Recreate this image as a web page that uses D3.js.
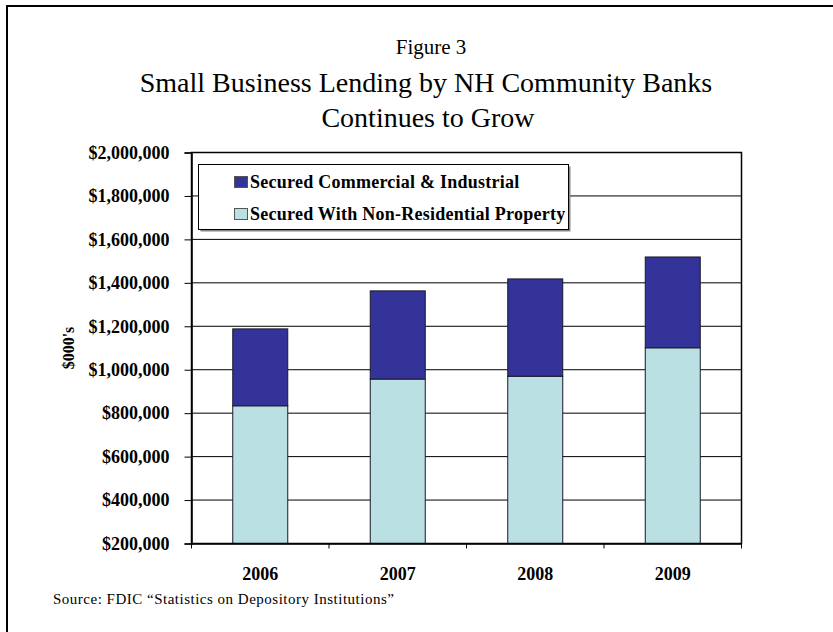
<!DOCTYPE html>
<html>
<head>
<meta charset="utf-8">
<script src="https://cdn.jsdelivr.net/npm/d3@7"></script>
<style>
  html, body { margin: 0; padding: 0; background: #fff; }
  svg { display: block; }
  text { font-family: "Liberation Serif", "Times New Roman", serif; fill: #000; }
</style>
</head>
<body>
<svg id="chart" width="833" height="632"></svg>
<script>
// Data (thousands of dollars)
const years = ["2006", "2007", "2008", "2009"];
const nonResidential = [834000, 957000, 970000, 1101000];   // Secured With Non-Residential Property
const commercialIndustrial = [354000, 406000, 448000, 418000]; // Secured Commercial & Industrial
const yTicks = [200000, 400000, 600000, 800000, 1000000, 1200000, 1400000, 1600000, 1800000, 2000000];
const seriesNames = ["Secured Commercial & Industrial", "Secured With Non-Residential Property"];
const seriesColors = ["#333399", "#BBE0E3"];

const svg = d3.select("#chart");

// Outer frame
svg.append("rect")
  .attr("x", 7).attr("y", 6).attr("width", 840).attr("height", 640)
  .attr("fill", "none").attr("stroke", "#000").attr("stroke-width", 2);

// Titles
svg.append("text").attr("x", 431).attr("y", 54).attr("text-anchor", "middle")
  .style("font-size", "21px").text("Figure 3");
svg.append("text").attr("x", 426).attr("y", 92).attr("text-anchor", "middle")
  .style("font-size", "28px").text("Small Business Lending by NH Community Banks");
svg.append("text").attr("x", 428).attr("y", 127).attr("text-anchor", "middle")
  .style("font-size", "28px").text("Continues to Grow");

// Plot area
const plotLeft = 191.5, plotRight = 741.5, plotTop = 152.5, plotBottom = 543.5;

const x = d3.scaleBand().domain(years).range([plotLeft, plotRight])
  .paddingInner(0.6).paddingOuter(0.3);
const y = d3.scaleLinear().domain([200000, 2000000]).range([plotBottom, plotTop]).clamp(true);

// Gridlines
svg.append("g").selectAll("line").data(yTicks).join("line")
  .attr("x1", plotLeft).attr("x2", plotRight)
  .attr("y1", d => y(d)).attr("y2", d => y(d))
  .attr("stroke", "#000").attr("stroke-width", 1);

// Stacked bars
const stackData = years.map((yr, i) => ({
  year: yr,
  nonRes: nonResidential[i],
  ci: commercialIndustrial[i]
}));
const layers = d3.stack().keys(["nonRes", "ci"])(stackData);
const layerColor = { nonRes: seriesColors[1], ci: seriesColors[0] };

svg.append("g").selectAll("g").data(layers).join("g")
  .attr("fill", d => layerColor[d.key])
  .selectAll("rect").data(d => d).join("rect")
  .attr("x", d => x(d.data.year))
  .attr("width", x.bandwidth())
  .attr("y", d => y(d[1]))
  .attr("height", d => y(d[0]) - y(d[1]))
  .attr("stroke", "#1a1a2a").attr("stroke-width", 1);

// Plot border
svg.append("rect")
  .attr("x", plotLeft).attr("y", plotTop)
  .attr("width", plotRight - plotLeft).attr("height", plotBottom - plotTop)
  .attr("fill", "none").attr("stroke", "#000").attr("stroke-width", 1.5);

// Y axis
const yAxis = d3.axisLeft(y).tickValues(yTicks)
  .tickSize(7).tickPadding(15)
  .tickFormat(d => "$" + d3.format(",")(d));
const yg = svg.append("g").attr("transform", `translate(${plotLeft},0)`).call(yAxis);
yg.select(".domain").attr("stroke", "#000").attr("stroke-width", 1.5);
yg.selectAll(".tick line").attr("stroke", "#000");
yg.selectAll(".tick text")
  .style("font-family", '"Liberation Serif", "Times New Roman", serif')
  .style("font-size", "18px").style("font-weight", "bold").attr("fill", "#000");

// X axis, with tick marks at category boundaries
const xAxis = d3.axisBottom(x).tickSize(0).tickPadding(24);
const xg = svg.append("g").attr("transform", `translate(0,${plotBottom})`).call(xAxis);
xg.select(".domain").attr("stroke", "#000").attr("stroke-width", 1.5);
xg.selectAll(".tick text")
  .style("font-family", '"Liberation Serif", "Times New Roman", serif')
  .style("font-size", "18px").style("font-weight", "bold").attr("fill", "#000");
const edges = [plotLeft].concat(years.map((yr, i) => plotLeft + x.step() * (i + 1)));
svg.append("g").selectAll("line").data(edges).join("line")
  .attr("x1", d => d).attr("x2", d => d)
  .attr("y1", plotBottom).attr("y2", plotBottom + 5)
  .attr("stroke", "#000").attr("stroke-width", 1);

// Y axis title
svg.append("text")
  .attr("transform", "translate(74,348) rotate(-90)")
  .attr("text-anchor", "middle")
  .style("font-size", "16px").style("font-weight", "bold")
  .text("$000's");

// Legend
const lg = svg.append("g");
lg.append("rect").attr("x", 200.5).attr("y", 166.5).attr("width", 370).attr("height", 65)
  .attr("fill", "#888");
lg.append("rect").attr("x", 198.5).attr("y", 164.5).attr("width", 370).attr("height", 65)
  .attr("fill", "#fff").attr("stroke", "#000").attr("stroke-width", 1);
const legendRows = [176.5, 208.5];
seriesNames.forEach((name, i) => {
  lg.append("rect").attr("x", 234.5).attr("y", legendRows[i]).attr("width", 13).attr("height", 11)
    .attr("fill", seriesColors[i]).attr("stroke", "#555").attr("stroke-width", 1);
  lg.append("text").attr("x", 250).attr("y", legendRows[i] + 11)
    .style("font-size", "18px").style("font-weight", "bold")
    .style("letter-spacing", "0.25px").text(name);
});

// Source note
svg.append("text").attr("x", 53).attr("y", 604)
  .style("font-size", "15px").style("letter-spacing", "0.5px")
  .text("Source: FDIC \u201cStatistics on Depository Institutions\u201d");
</script>
</body>
</html>
